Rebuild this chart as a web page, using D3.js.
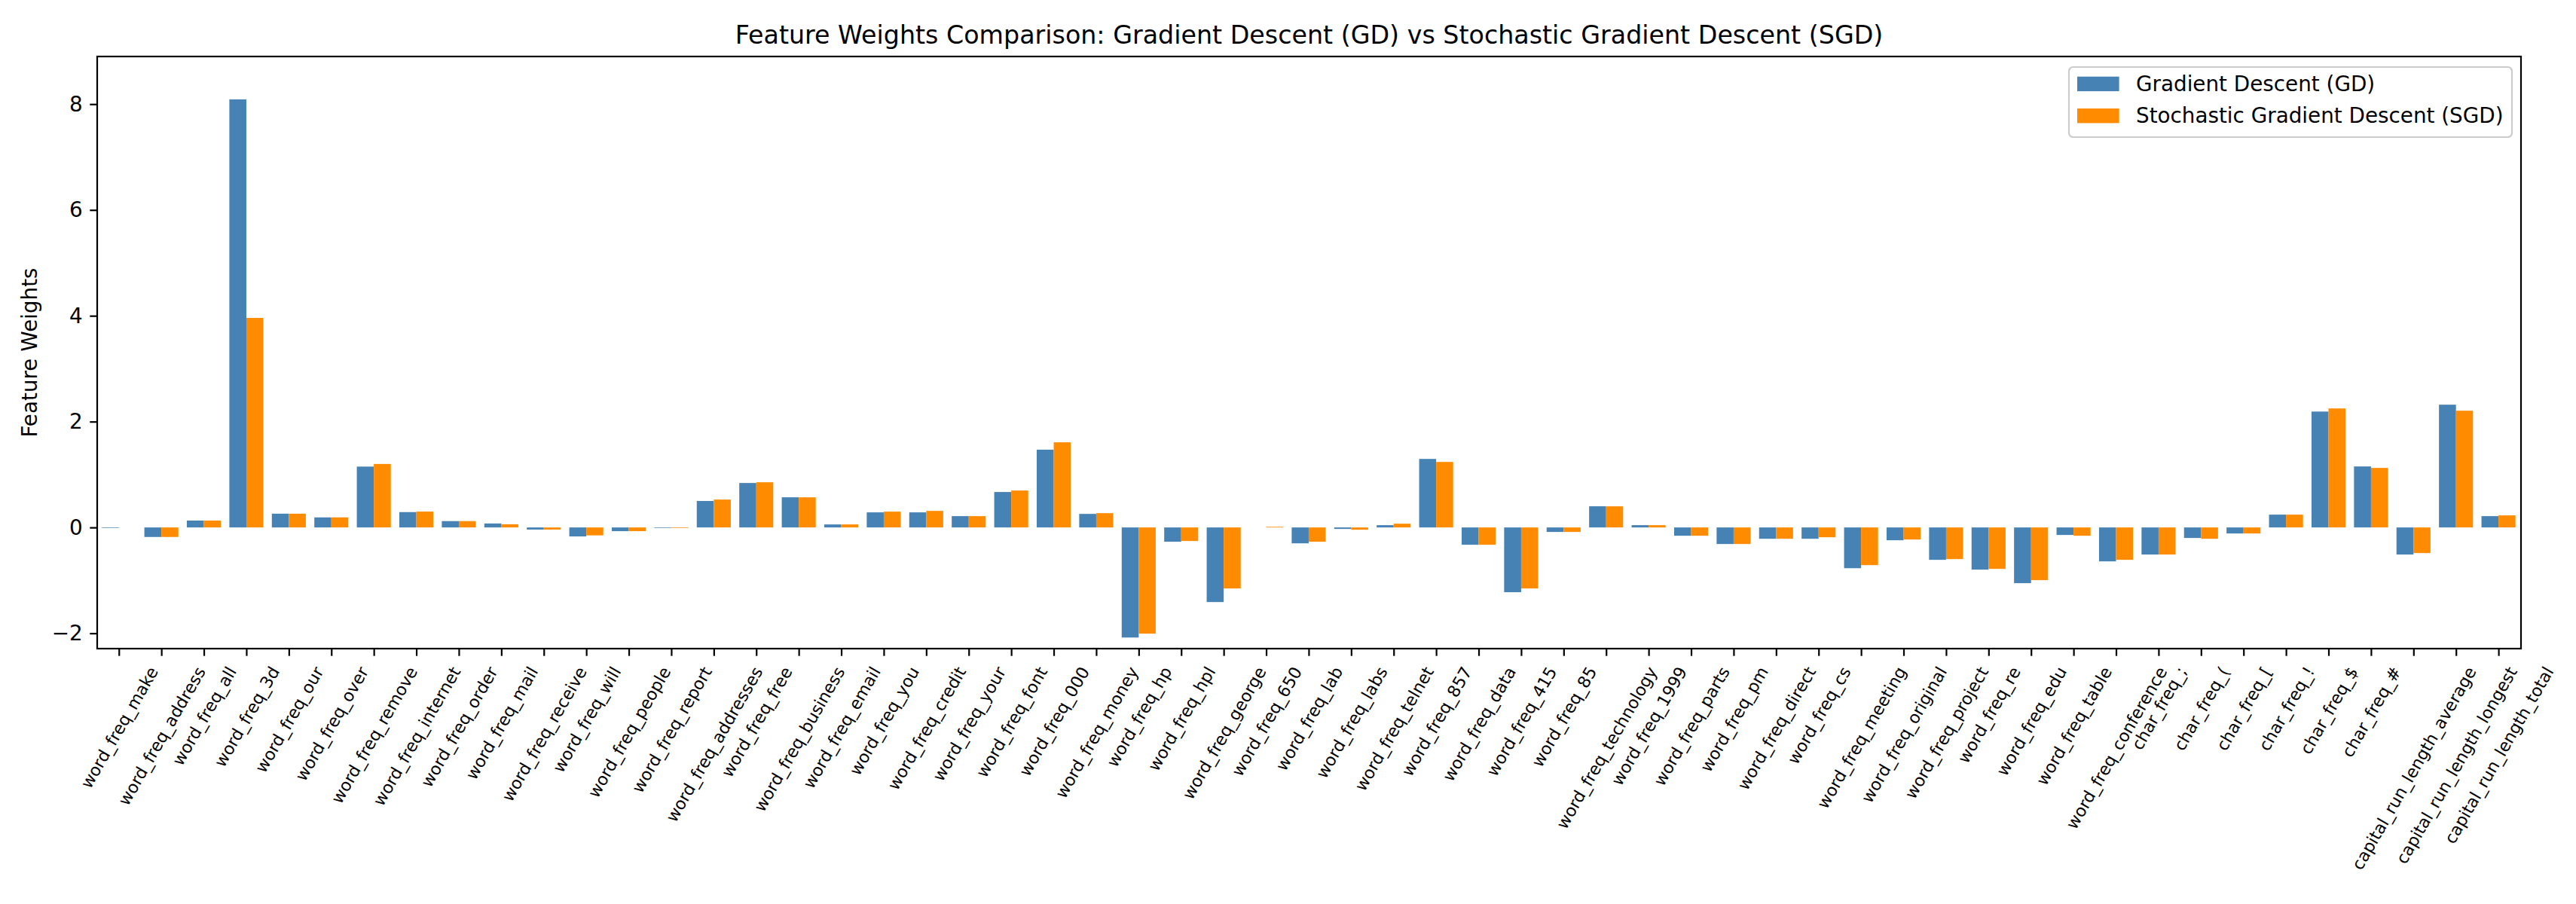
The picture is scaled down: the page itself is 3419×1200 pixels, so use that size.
<!DOCTYPE html>
<html>
<head>
<meta charset="utf-8">
<script src="https://cdn.jsdelivr.net/npm/d3@7"></script>
<style>
  body { margin: 0; background: #fff; }
  svg { display: block; font-family: "DejaVu Sans", sans-serif; }
</style>
</head>
<body>
<div id="chart"></div>
<script>
// values
const features = [
  'word_freq_make', 'word_freq_address', 'word_freq_all', 'word_freq_3d', 'word_freq_our',
  'word_freq_over', 'word_freq_remove', 'word_freq_internet', 'word_freq_order', 'word_freq_mail',
  'word_freq_receive', 'word_freq_will', 'word_freq_people', 'word_freq_report', 'word_freq_addresses',
  'word_freq_free', 'word_freq_business', 'word_freq_email', 'word_freq_you', 'word_freq_credit',
  'word_freq_your', 'word_freq_font', 'word_freq_000', 'word_freq_money', 'word_freq_hp',
  'word_freq_hpl', 'word_freq_george', 'word_freq_650', 'word_freq_lab', 'word_freq_labs',
  'word_freq_telnet', 'word_freq_857', 'word_freq_data', 'word_freq_415', 'word_freq_85',
  'word_freq_technology', 'word_freq_1999', 'word_freq_parts', 'word_freq_pm', 'word_freq_direct',
  'word_freq_cs', 'word_freq_meeting', 'word_freq_original', 'word_freq_project', 'word_freq_re',
  'word_freq_edu', 'word_freq_table', 'word_freq_conference', 'char_freq_;', 'char_freq_(',
  'char_freq_[', 'char_freq_!', 'char_freq_$', 'char_freq_#', 'capital_run_length_average',
  'capital_run_length_longest', 'capital_run_length_total'
]

const gdWeights = [
  -0.01, -0.18, 0.13, 8.09, 0.26, 0.19, 1.15, 0.29, 0.12, 0.075,
  -0.04, -0.17, -0.07, -0.01, 0.50, 0.84, 0.57, 0.057, 0.285, 0.285,
  0.214, 0.67, 1.47, 0.256, -2.08, -0.27, -1.41, 0.0, -0.30, -0.028,
  0.043, 1.295, -0.327, -1.224, -0.085, 0.40, 0.043, -0.157, -0.313, -0.214,
  -0.214, -0.77, -0.242, -0.612, -0.797, -1.053, -0.142, -0.641, -0.512, -0.199,
  -0.114, 0.242, 2.19, 1.153, -0.512, 2.32, 0.214
]

const sgdWeights = [
  0.0, -0.18, 0.13, 3.96, 0.26, 0.19, 1.20, 0.30, 0.12, 0.06,
  -0.04, -0.15, -0.07, -0.01, 0.527, 0.854, 0.569, 0.057, 0.299, 0.313,
  0.214, 0.698, 1.609, 0.27, -2.007, -0.256, -1.153, 0.012, -0.27, -0.043,
  0.071, 1.238, -0.327, -1.153, -0.085, 0.399, 0.043, -0.157, -0.313, -0.214,
  -0.185, -0.712, -0.228, -0.598, -0.783, -0.996, -0.157, -0.612, -0.512, -0.214,
  -0.114, 0.242, 2.249, 1.125, -0.484, 2.206, 0.228
]

const yTicks = [-2, 0, 2, 4, 6, 8]
const seriesNames = ['Gradient Descent (GD)', 'Stochastic Gradient Descent (SGD)']

class FeatureWeightsChart {

  constructor(_parentElement) {
    this.parentElement = _parentElement
    this.initVis()
  }

  initVis() {
    const vis = this
    vis.MARGIN = { LEFT: 129, RIGHT: 73, TOP: 75, BOTTOM: 339 }
    vis.WIDTH = 3419 - vis.MARGIN.LEFT - vis.MARGIN.RIGHT
    vis.HEIGHT = 1200 - vis.MARGIN.TOP - vis.MARGIN.BOTTOM
    vis.barWidth = 0.4          // in category units, like matplotlib width
    vis.colors = ['#4682b4', '#ff8c00']
    vis.tickLen = 9.7
    vis.tickPad = 9.7
    vis.lineW = 2.2

    vis.root = d3.select(vis.parentElement).append('svg')
        .attr('width', 3419)
        .attr('height', 1200)

    vis.svg = vis.root.append('g')
        .attr('transform', `translate(${vis.MARGIN.LEFT}, ${vis.MARGIN.TOP})`)

    vis.x = d3.scaleLinear()
        .domain([-0.51, features.length - 0.47])
        .range([0, vis.WIDTH])

    vis.y = d3.scaleLinear()
        .domain([-2.29, 8.9])
        .range([vis.HEIGHT, 0])

    vis.series = [gdWeights, sgdWeights]

    vis.drawBars()
    vis.drawAxes()
    vis.drawLegend()
  }

  drawBars() {
    const vis = this
    vis.series.forEach((values, s) => {
      const offset = s === 0 ? -vis.barWidth : 0
      vis.svg.append('g')
        .selectAll('rect')
        .data(values.map((v, i) => ({ i, v })))
        .join('rect')
          .attr('x', d => vis.x(d.i + offset))
          .attr('width', d => vis.x(d.i + offset + vis.barWidth) - vis.x(d.i + offset))
          .attr('y', d => vis.y(Math.max(0, d.v)))
          .attr('height', d => Math.abs(vis.y(d.v) - vis.y(0)))
          .attr('fill', vis.colors[s])
    })
  } // end of drawBars()

  drawAxes() {
    const vis = this

    // y axis
    const yAxis = vis.svg.append('g')
        .call(d3.axisLeft(vis.y)
          .tickValues(yTicks)
          .tickSize(vis.tickLen)
          .tickPadding(vis.tickPad)
          .tickFormat(d3.format('d')))
    yAxis.select('.domain').remove()
    yAxis.selectAll('.tick line').attr('stroke-width', vis.lineW)
    yAxis.selectAll('.tick text')
        .attr('font-size', 27.8)
        .attr('font-family', 'DejaVu Sans')
        .attr('fill', '#000')

    // x axis, labels rotated 60deg with their box centred on the tick
    const xAxis = vis.svg.append('g')
        .attr('transform', `translate(0, ${vis.HEIGHT})`)
        .call(d3.axisBottom(vis.x)
          .tickValues(d3.range(features.length))
          .tickSize(vis.tickLen)
          .tickFormat(i => features[i]))
    xAxis.select('.domain').remove()
    xAxis.selectAll('.tick line').attr('stroke-width', vis.lineW)

    const sin60 = Math.sin(Math.PI / 3)
    const h = 26   // text box height at 22px
    xAxis.selectAll('.tick text')
        .attr('font-size', 22.2)
        .attr('font-family', 'DejaVu Sans')
        .attr('fill', '#000')
        .each(function () {
          const L = this.getComputedTextLength()
          const cy = vis.tickLen + vis.tickPad + (L * sin60 + h * 0.5) / 2
          d3.select(this)
            .attr('y', null)
            .attr('dy', null)
            .attr('text-anchor', 'middle')
            .attr('dominant-baseline', 'central')
            .attr('transform', `translate(0, ${cy}) rotate(-60)`)
        })

    // frame (spines)
    vis.svg.append('rect')
        .attr('width', vis.WIDTH)
        .attr('height', vis.HEIGHT)
        .attr('fill', 'none')
        .attr('stroke', '#000')
        .attr('stroke-width', vis.lineW)

    vis.svg.append('text')
        .attr('transform', `translate(${49 - vis.MARGIN.LEFT}, ${vis.HEIGHT / 2}) rotate(-90)`)
        .attr('text-anchor', 'middle')
        .attr('font-size', 27.8)
        .text('Feature Weights')

    vis.root.append('text')
        .attr('x', vis.MARGIN.LEFT + vis.WIDTH / 2)
        .attr('y', 58)
        .attr('text-anchor', 'middle')
        .attr('font-size', 33.3)
        .text('Feature Weights Comparison: Gradient Descent (GD) vs Stochastic Gradient Descent (SGD)')
  } // end of drawAxes()

  drawLegend() {
    const vis = this
    const lg = vis.root.append('g').attr('transform', 'translate(2746, 89)')

    lg.append('rect')
        .attr('width', 588)
        .attr('height', 93)
        .attr('rx', 5.5)
        .attr('fill', '#fff')
        .attr('fill-opacity', 0.8)
        .attr('stroke', '#cccccc')
        .attr('stroke-width', vis.lineW)

    const rows = lg.selectAll('g.row')
        .data(seriesNames)
        .join('g')
          .attr('class', 'row')
          .attr('transform', (d, i) => `translate(11, ${12.7 + i * 42.3})`)

    rows.append('rect')
        .attr('width', 55.6)
        .attr('height', 19.4)
        .attr('fill', (d, i) => vis.colors[i])

    rows.append('text')
        .attr('x', 78)
        .attr('y', 9.7)
        .attr('dominant-baseline', 'central')
        .attr('font-size', 27.8)
        .text(d => d)
  } // end of drawLegend()
}

new FeatureWeightsChart('#chart')
</script>
</body>
</html>
